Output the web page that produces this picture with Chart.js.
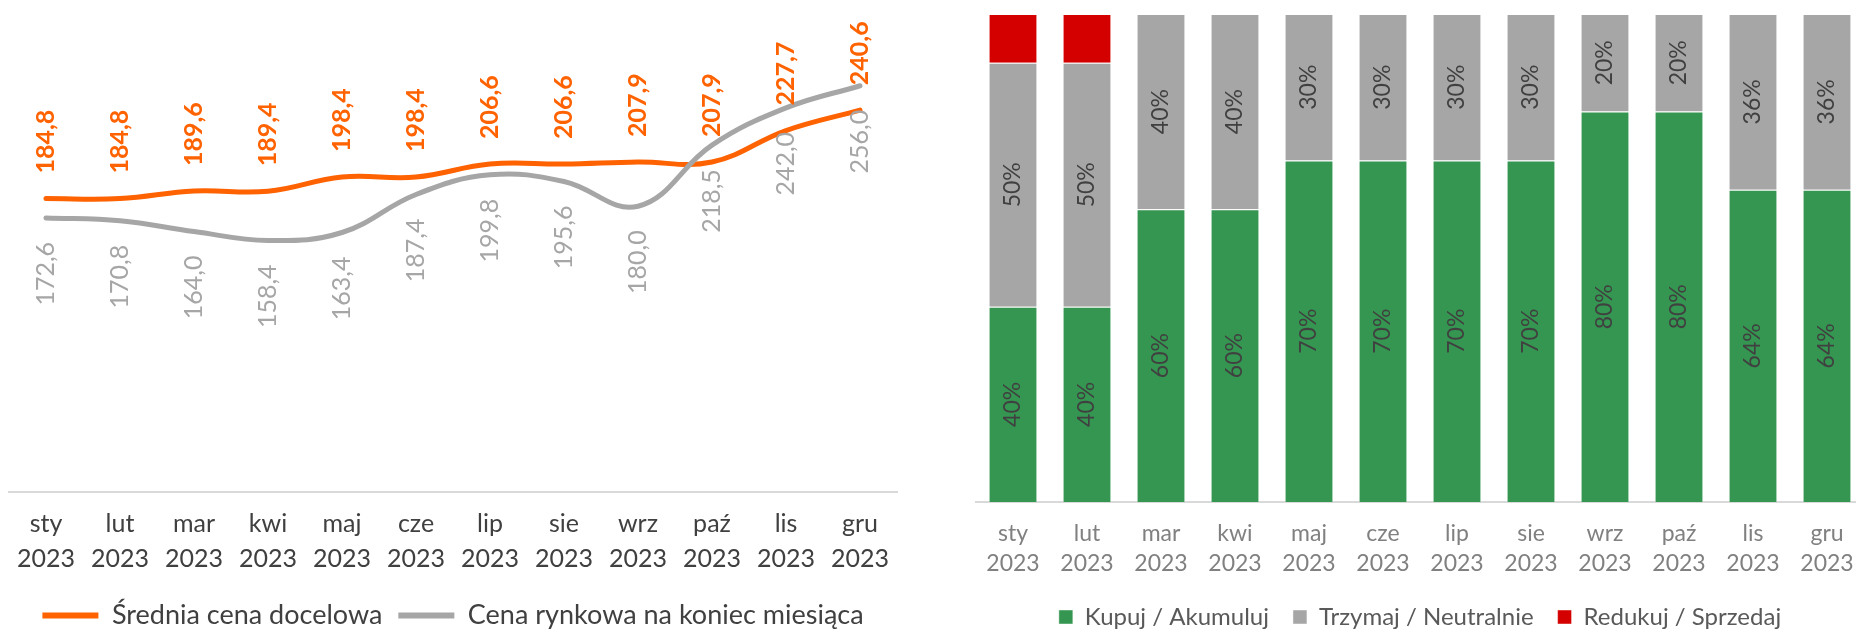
<!DOCTYPE html>
<html>
<head>
<meta charset="utf-8">
<script src="https://cdn.jsdelivr.net/npm/chart.js@4.4.1/dist/chart.umd.min.js"></script>
<style>
html, body { margin:0; padding:0; width:1856px; height:629px; overflow:hidden; background:#fff; }
#left { position:absolute; left:0; top:0; width:906px; height:639px; }
#right { position:absolute; left:940px; top:0; width:960px; height:639px; }
</style>
</head>
<body>
<div id="left"><canvas id="c1"></canvas></div>
<div id="right"><canvas id="c2"></canvas></div>
<script>
// ---- data ----
const months = ['sty','lut','mar','kwi','maj','cze','lip','sie','wrz','paź','lis','gru'];
const year = '2023';
const targetPrice = [184.8,184.8,189.6,189.4,198.4,198.4,206.6,206.6,207.9,207.9,227.7,240.6];
const marketPrice = [172.6,170.8,164.0,158.4,163.4,187.4,199.8,195.6,180.0,218.5,242.0,256.0];
const buyShare  = [40,40,60,60,70,70,70,70,80,80,64,64];
const holdShare = [50,50,40,40,30,30,30,30,20,20,36,36];
const sellShare = [10,10,0,0,0,0,0,0,0,0,0,0];
const lineNames = ['Średnia cena docelowa','Cena rynkowa na koniec miesiąca'];
const barNames = ['Kupuj / Akumuluj','Trzymaj / Neutralnie','Redukuj / Sprzedaj'];

const FONT = 'Lato, "Open Sans", sans-serif';
const ORANGE = '#FF6200', GREY = '#A6A6A6', GREEN = '#349650', RED = '#D40000';
const labels = months.map(m => [m, year]);
const fmt = v => v.toFixed(1).replace('.', ',');

const lineLabelPlugin = {
  id: 'lineLabels',
  afterDatasetsDraw(chart) {
    const ctx = chart.ctx;
    chart.data.datasets.forEach((ds, i) => {
      const meta = chart.getDatasetMeta(i);
      meta.data.forEach((pt, j) => {
        ctx.save();
        ctx.translate(pt.x, i === 0 ? pt.y - 25 : pt.y + 24);
        ctx.rotate(-Math.PI / 2);
        ctx.textBaseline = 'middle';
        ctx.textAlign = i === 0 ? 'left' : 'right';
        ctx.font = (i === 0 ? 'bold ' : '') + '25px ' + FONT;
        ctx.fillStyle = i === 0 ? ORANGE : GREY;
        ctx.fillText(fmt(ds.data[j]), 0, 0);
        ctx.restore();
      });
    });
  }
};

new Chart(document.getElementById('c1'), {
  type: 'line',
  data: {
    labels: labels,
    datasets: [
      { label: lineNames[0], data: targetPrice, borderColor: ORANGE, backgroundColor: ORANGE,
        borderWidth: 5, tension: 0.4, pointRadius: 0, borderCapStyle: 'round', order: 1 },
      { label: lineNames[1], data: marketPrice, borderColor: GREY, backgroundColor: GREY,
        borderWidth: 5, tension: 0.4, pointRadius: 0, borderCapStyle: 'round', order: 0 }
    ]
  },
  options: {
    responsive: true, maintainAspectRatio: false, animation: false,
    layout: { padding: { left: 9, right: 9, top: 16, bottom: 0 } },
    plugins: {
      tooltip: { enabled: false },
      legend: {
        position: 'bottom',
        labels: {
          font: { family: FONT, size: 27, lineHeight: 1.2 }, color: '#404040',
          boxWidth: 56, boxHeight: 6, padding: 16,
          sort: (a, b) => a.datasetIndex - b.datasetIndex,
          generateLabels: (chart) => chart.data.datasets.map((d, i) => ({
            text: d.label, fillStyle: d.borderColor, strokeStyle: d.borderColor,
            lineWidth: 0, datasetIndex: i, fontColor: '#404040'
          }))
        }
      }
    },
    scales: {
      x: {
        offset: true,
        grid: { display: false, drawTicks: false },
        border: { display: true, color: '#D9D9D9', width: 2 },
        ticks: { font: { family: FONT, size: 25, lineHeight: 1.4 }, color: '#404040', padding: 15, maxRotation: 0, autoSkip: false },
        afterFit: (s) => { s.height = 94.5; }
      },
      y: { display: false, min: 0, max: 300 }
    }
  },
  plugins: [lineLabelPlugin]
});

const barLabelPlugin = {
  id: 'barLabels',
  afterDatasetsDraw(chart) {
    const ctx = chart.ctx;
    chart.data.datasets.forEach((ds, i) => {
      if (i === 2) return;
      const meta = chart.getDatasetMeta(i);
      meta.data.forEach((bar, j) => {
        const v = ds.data[j];
        if (!v) return;
        ctx.save();
        ctx.translate(bar.x, (bar.y + bar.base) / 2);
        ctx.rotate(-Math.PI / 2);
        ctx.textBaseline = 'middle';
        ctx.textAlign = 'center';
        ctx.font = '23px ' + FONT;
        ctx.fillStyle = '#404040';
        ctx.fillText(v + '%', 0, 0);
        ctx.restore();
      });
    });
  }
};

new Chart(document.getElementById('c2'), {
  type: 'bar',
  data: {
    labels: labels,
    datasets: [
      { label: barNames[0], data: buyShare, backgroundColor: GREEN, borderColor: 'rgba(255,255,255,0.45)', borderWidth: 1, barPercentage: 0.66, categoryPercentage: 1 },
      { label: barNames[1], data: holdShare, backgroundColor: GREY, borderColor: 'rgba(255,255,255,0.45)', borderWidth: 1, barPercentage: 0.66, categoryPercentage: 1 },
      { label: barNames[2], data: sellShare, backgroundColor: RED, borderColor: 'rgba(255,255,255,0.45)', borderWidth: 1, barPercentage: 0.66, categoryPercentage: 1 }
    ]
  },
  options: {
    responsive: true, maintainAspectRatio: false, animation: false,
    layout: { padding: { left: 36, right: 36, top: 14, bottom: 0 } },
    plugins: {
      tooltip: { enabled: false },
      legend: {
        position: 'bottom',
        labels: {
          font: { family: FONT, size: 24, lineHeight: 1.2 }, color: '#595959',
          boxWidth: 14, boxHeight: 14, padding: 24
        }
      }
    },
    scales: {
      x: {
        stacked: true,
        grid: { display: false, drawTicks: false },
        border: { display: true, color: '#D9D9D9', width: 2 },
        ticks: { font: { family: FONT, size: 23, lineHeight: 1.3 }, color: '#808080', padding: 17, maxRotation: 0, autoSkip: false },
        afterFit: (s) => { s.height = 79; }
      },
      y: { display: false, stacked: true, min: 0, max: 100 }
    }
  },
  plugins: [barLabelPlugin]
});
</script>
</body>
</html>
